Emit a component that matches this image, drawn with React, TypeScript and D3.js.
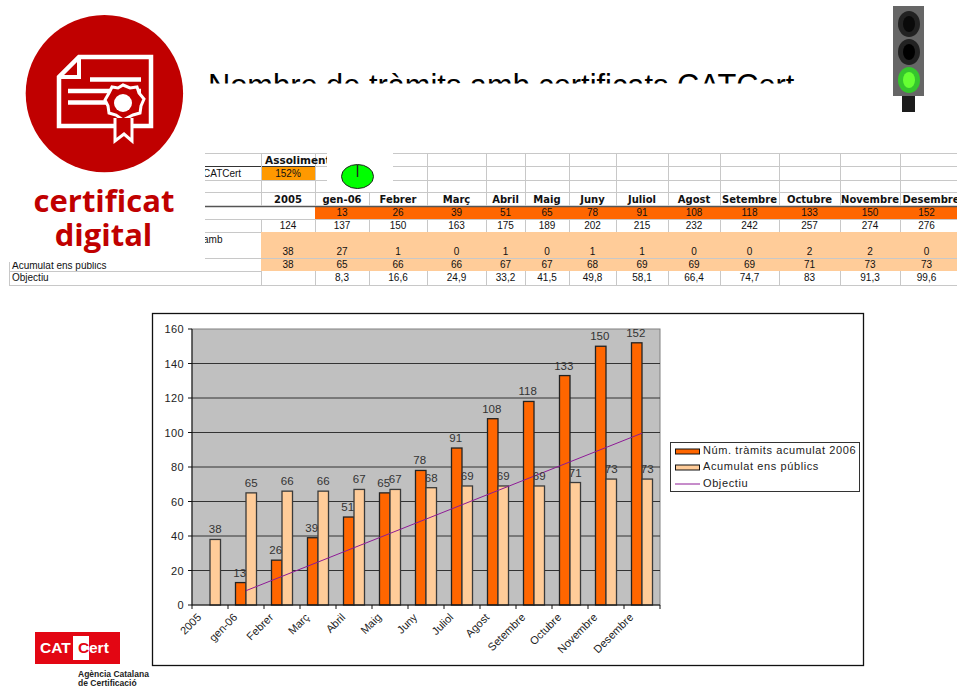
import React from "react";
import * as d3 from "d3";

const categories = ["2005","gen-06","Febrer","Març","Abril","Maig","Juny","Juliol","Agost","Setembre","Octubre","Novembre","Desembre"];
const tramits = [null,13,26,39,51,65,78,91,108,118,133,150,152];
const ensPublics = [38,65,66,66,67,67,68,69,69,69,71,73,73];
const objectiu = [null,8.3,16.6,24.9,33.2,41.5,49.8,58.1,66.4,74.7,83,91.3,99.6];
const objectiuLabels = ["","8,3","16,6","24,9","33,2","41,5","49,8","58,1","66,4","74,7","83","91,3","99,6"];
const totals = [124,137,150,163,175,189,202,215,232,242,257,274,276];
const ensMensual = [38,27,1,0,1,0,1,1,0,0,2,2,0];
const seriesNames = ["Núm. tràmits acumulat 2006","Acumulat ens públics","Objectiu"];
const yTicks = [0,20,40,60,80,100,120,140,160];

const ORANGE = "#ff6600", PEACH = "#ffcc99", PURPLE = "#8e1a96", RED = "#c00000";
const ARIAL = "'Liberation Sans', Arial, sans-serif";
const TABLE_HEAD = "'DejaVu Sans', Verdana, sans-serif";

const colEdges = [261,315,369,427,486,525,569,616,668,720,779,840,900,957];
const rowEdges = [153,166,180,192,206,219,232,258,271,285];
const colCenter = (i: number) => (colEdges[i] + Math.min(colEdges[i+1], 953)) / 2;

const x = d3.scaleBand<string>().domain(categories).range([192,660]);
const sub = d3.scaleBand<string>().domain(["a","b"]).range([0,x.bandwidth()]).paddingOuter(0.714).paddingInner(0);
const y = d3.scaleLinear().domain([0,160]).range([605,329]);
const line = d3.line<number|null>()
  .defined(d => d != null)
  .x((_, i) => x(categories[i])! + x.bandwidth()/2)
  .y(d => y(d as number));

function Table() {
  const grey = "#c8c8c8";
  return (
    <g fontFamily={ARIAL} fontSize={10} fill="#111" textAnchor="middle">
      <rect x={315} y={206} width={642} height={13} fill={ORANGE}/>
      <rect x={261} y={232} width={696} height={39} fill={PEACH}/>
      <rect x={261} y={167} width={54} height={13} fill="#ff9900"/>
      {rowEdges.map((r,i) => (
        <line key={i} x1={i>=8?9:205} x2={957} y1={r+.5} y2={r+.5}
          stroke={i===4?"#555":grey} strokeWidth={i===4?1.5:1} opacity={i===6||i===8?0:1}/>
      ))}
      <line x1={205} x2={261} y1={232.5} y2={232.5} stroke={grey}/>
      <line x1={9} x2={261} y1={271.5} y2={271.5} stroke={grey}/>
      <line x1={205} x2={315} y1={166.5} y2={166.5} stroke="#333"/>
      {colEdges.slice(0,-1).map((c,i) => (
        <g key={i}>
          <line x1={c+.5} x2={c+.5} y1={153} y2={206} stroke={grey}/>
          <line x1={c+.5} x2={c+.5} y1={219} y2={232} stroke={grey}/>
          <line x1={c+.5} x2={c+.5} y1={271} y2={285} stroke={grey}/>
        </g>
      ))}
      <line x1={9.5} x2={9.5} y1={258} y2={285} stroke={grey}/>
      <text x={265} y={164} textAnchor="start" fontFamily={TABLE_HEAD} fontWeight={700} fontSize={10.5}>Assoliment</text>
      <text x={288} y={177}>152%</text>
      <text x={203} y={177} textAnchor="start">CATCert</text>
      <text x={203} y={243} textAnchor="start">amb</text>
      <text x={12} y={268.5} textAnchor="start">Acumulat ens públics</text>
      <text x={12} y={281} textAnchor="start">Objectiu</text>
      {categories.map((c,i) => (
        <g key={c}>
          <text x={i === 12 ? 931 : colCenter(i)} y={203} fontFamily={TABLE_HEAD} fontWeight={700} fontSize={10}>{c}</text>
          {tramits[i] != null && <text x={colCenter(i)} y={216}>{tramits[i]}</text>}
          <text x={colCenter(i)} y={229}>{totals[i]}</text>
          <text x={colCenter(i)} y={255}>{ensMensual[i]}</text>
          <text x={colCenter(i)} y={268}>{ensPublics[i]}</text>
          <text x={colCenter(i)} y={281}>{objectiuLabels[i]}</text>
        </g>
      ))}
    </g>
  );
}

function Logo() {
  return (
    <g>
      <rect x={0} y={0} width={205} height={262} fill="#fff"/>
      <circle cx={104.4} cy={93.6} r={78.7} fill={RED}/>
      <g fill="none" stroke="#fff" strokeWidth={4.5}>
        <path d="M79,57 H151 V126 H59 V77 Z"/>
        <path d="M79,57 V77 H59" strokeWidth={4}/>
        <path d="M90,79.5 H141"/>
        <path d="M68,91 H141"/>
        <path d="M68,102.5 H106"/>
      </g>
      <path d="M123,85 L130,88 L137,87 L139,93 L144,99 L141,106 L140,113 L133,115 L123,120 L116,115 L109,113 L108,106 L105,100 L109,93 L112,87 L118,88 Z" fill={RED} stroke="#fff" strokeWidth={3}/>
      <circle cx={123} cy={103} r={9} fill="#fff"/>
      <path d="M115,118 V141 L124,134 L132,141 V118" fill={RED} stroke="#fff" strokeWidth={3}/>
      <text x={104} y={212} textAnchor="middle" fontFamily="'Open Sans', sans-serif" fontWeight={700} fontSize={31} fill={RED}>certificat</text>
      <text x={103.5} y={246} textAnchor="middle" fontFamily="'Open Sans', sans-serif" fontWeight={700} fontSize={31} fill={RED}>digital</text>
    </g>
  );
}

function Chart() {
  return (
    <g fontFamily={ARIAL} fill="#222">
      <rect x={152.5} y={313.5} width={711} height={352} fill="#fff" stroke="#111" strokeWidth={1.3}/>
      <rect x={192} y={329} width={468} height={276} fill="#c0c0c0" stroke="#808080"/>
      {yTicks.map(t => (
        <g key={t}>
          {t > 0 && t < 160 && <line x1={192} x2={660} y1={y(t)} y2={y(t)} stroke="#222" strokeWidth={0.9}/>}
          <line x1={188} x2={192} y1={y(t)} y2={y(t)} stroke="#111"/>
          <text x={184} y={y(t)+4} textAnchor="end" fontSize={11} letterSpacing={0.4}>{t}</text>
        </g>
      ))}
      {categories.map((c,i) => {
        const x0 = x(c)!;
        const a = tramits[i];
        const b = ensPublics[i];
        return (
          <g key={c}>
            {a != null && <rect x={x0+sub("a")!} y={y(a)} width={sub.bandwidth()} height={605-y(a)} fill={ORANGE} stroke="#222" strokeWidth={1.3}/>}
            <rect x={x0+sub("b")!} y={y(b)} width={sub.bandwidth()} height={605-y(b)} fill={PEACH} stroke="#3a3a3a" strokeWidth={1.3}/>
          </g>
        );
      })}
      <path d={line(objectiu)!} fill="none" stroke={PURPLE} strokeWidth={1}/>
      {categories.map((c,i) => {
        const x0 = x(c)!;
        const a = tramits[i];
        const b = ensPublics[i];
        return (
          <g key={c} fontSize={11.5} textAnchor="middle" fill="#333">
            {a != null && <text x={x0+sub("a")!+sub.bandwidth()/2-1} y={y(a)-6}>{a}</text>}
            <text x={x0+sub("b")!+sub.bandwidth()/2} y={y(b)-6}>{b}</text>
          </g>
        );
      })}
      <line x1={192} x2={660} y1={605} y2={605} stroke="#111"/>
      <line x1={192} x2={192} y1={329} y2={605} stroke="#111"/>
      {[...categories, ""].map((c,i) => (
        <line key={i} x1={192+i*x.step()} x2={192+i*x.step()} y1={605} y2={609} stroke="#111"/>
      ))}
      {categories.map(c => {
        const tx = x(c)! + x.bandwidth()/2 - 8, ty = 618;
        return <text key={c} transform={`translate(${tx},${ty}) rotate(-45)`} textAnchor="end" fontSize={11}>{c}</text>;
      })}
      <rect x={670.5} y={442.5} width={189} height={49} fill="#fff" stroke="#333"/>
      <rect x={675.5} y={449} width={24} height={5} fill={ORANGE} stroke="#111"/>
      <text x={703} y={454} fontSize={11} letterSpacing={0.6}>{seriesNames[0]}</text>
      <rect x={675.5} y={465} width={24} height={5} fill={PEACH} stroke="#111"/>
      <text x={703} y={470} fontSize={11} letterSpacing={0.6}>{seriesNames[1]}</text>
      <line x1={675} x2={700} y1={484} y2={484} stroke={PURPLE}/>
      <text x={703} y={487} fontSize={11} letterSpacing={0.6}>{seriesNames[2]}</text>
    </g>
  );
}

export default function App() {
  return (
    <svg width={957} height={688} viewBox="0 0 957 688" style={{position:"fixed",left:0,top:0,background:"#fff"}}>
      <defs>
        <clipPath id="titleClip"><rect x={200} y={60} width={620} height={23.5}/></clipPath>
      </defs>
      <Table/>
      <rect x={327} y={153} width={66} height={39} fill="#fff"/>
      <ellipse cx={357.5} cy={176.5} rx={16} ry={12} fill="#00ff00" stroke="#222"/>
      <line x1={357.5} x2={357.5} y1={165} y2={177} stroke="#222" strokeWidth={1.4}/>
      <Logo/>
      <g clipPath="url(#titleClip)">
        <text x={208} y={95.5} fontFamily={ARIAL} fontSize={30.8} fill="#000">Nombre de tràmits amb certificats CATCert</text>
      </g>
      <rect x={893} y={6} width={31} height={90} fill="#666"/>
      <rect x={902} y={96} width={13} height={16} fill="#1c1c1c"/>
      <ellipse cx={909} cy={24} rx={11} ry={13} fill="#222"/>
      <ellipse cx={909} cy={24} rx={6} ry={8} fill="#0a0a0a"/>
      <ellipse cx={909} cy={52} rx={11} ry={13} fill="#222"/>
      <ellipse cx={909} cy={52} rx={6} ry={8} fill="#000"/>
      <ellipse cx={909} cy={80} rx={11} ry={13} fill="#35c52d"/>
      <ellipse cx={909} cy={80} rx={6} ry={8} fill="#66ff33"/>
      <Chart/>
      <rect x={35} y={632} width={85} height={32} fill="#e30613"/>
      <rect x={73} y={636} width={16} height={24} fill="#fff"/>
      <text x={40} y={653} fontFamily={ARIAL} fontWeight={700} fontSize={15.5} fill="#fff">CAT</text>
      <text x={78} y={653} fontFamily={ARIAL} fontWeight={700} fontSize={15.5} fill="#e30613">C</text>
      <text x={89} y={653} fontFamily={ARIAL} fontWeight={700} fontSize={15.5} fill="#fff">ert</text>
      <text x={78} y={677} fontFamily={ARIAL} fontWeight={700} fontSize={8.5} fill="#222">Agència Catalana</text>
      <text x={78} y={686} fontFamily={ARIAL} fontWeight={700} fontSize={8.5} fill="#222">de Certificació</text>
    </svg>
  );
}
